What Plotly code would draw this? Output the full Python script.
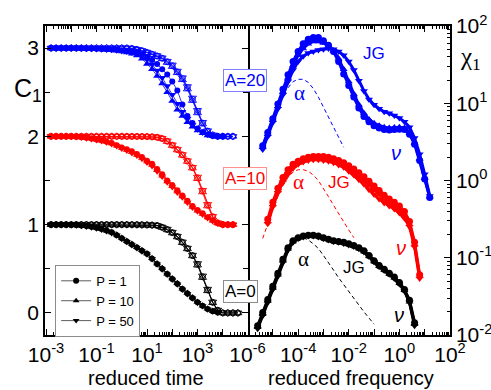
import plotly.graph_objects as go

# ---------------- Left panel: C1 vs reduced time ----------------
LOG_T = [-2.8, -2.6, -2.4, -2.2, -2.0, -1.8, -1.6, -1.4, -1.2, -1.0,
         -0.8, -0.6, -0.4, -0.2, 0.0, 0.2, 0.4, 0.6, 0.8, 1.0,
         1.2, 1.4, 1.6, 1.8, 2.0, 2.2, 2.4, 2.6, 2.8, 3.0,
         3.2, 3.4, 3.6, 3.8, 4.0, 4.2, 4.4, 4.6]

# A=0 (black), filled
C_A0_P1_F = [1.0, 1.0, 1.0, 1.0, 0.997, 0.995, 0.99, 0.985, 0.975, 0.965, 0.95, 0.935, 0.915, 0.88, 0.845,
             0.81, 0.775, 0.74, 0.705, 0.67, 0.615, 0.555, 0.50, 0.44, 0.385, 0.33, 0.27, 0.22, 0.17, 0.12,
             0.08, 0.045, 0.02, 0.005]
C_A0_P10_F = [1.0, 1.0, 1.0, 0.998, 0.996, 0.993, 0.988, 0.982, 0.973, 0.962, 0.948, 0.93, 0.91, 0.885, 0.85,
              0.815, 0.78, 0.745, 0.71, 0.672, 0.62, 0.56, 0.505, 0.445, 0.39, 0.335, 0.275, 0.225, 0.175, 0.125,
              0.082, 0.048, 0.022, 0.007]
C_A0_P50_F = [1.0, 1.0, 0.999, 0.998, 0.995, 0.992, 0.987, 0.98, 0.97, 0.958, 0.944, 0.927, 0.905, 0.88, 0.84,
              0.805, 0.77, 0.735, 0.70, 0.665, 0.61, 0.55, 0.495, 0.435, 0.38, 0.325, 0.265, 0.215, 0.165, 0.115,
              0.078, 0.042, 0.018, 0.004]
# A=0 (black), open
C_A0_P1_O = [1.0, 1.0, 1.0, 1.0, 1.0, 1.0, 1.0, 1.0, 1.0, 1.0, 1.0, 1.0, 1.0, 1.0, 1.0, 1.0, 0.999, 0.999,
             0.998, 0.997, 0.995, 0.99, 0.97, 0.945, 0.91, 0.865, 0.80, 0.73, 0.65, 0.55, 0.41, 0.26, 0.12,
             0.03, 0.0, 0.0, 0.0, 0.0]
C_A0_P10_O = [1.0, 1.0, 1.0, 1.0, 1.0, 1.0, 1.0, 1.0, 1.0, 1.0, 1.0, 1.0, 1.0, 1.0, 1.0, 0.999, 0.999, 0.998,
              0.997, 0.996, 0.993, 0.987, 0.967, 0.94, 0.905, 0.86, 0.795, 0.725, 0.645, 0.54, 0.40, 0.25, 0.115,
              0.028, 0.0, 0.0, 0.0, 0.0]
C_A0_P50_O = [1.0, 1.0, 1.0, 1.0, 1.0, 1.0, 1.0, 1.0, 1.0, 1.0, 1.0, 1.0, 1.0, 1.0, 1.0, 1.0, 1.0, 0.999,
              0.998, 0.998, 0.996, 0.992, 0.973, 0.95, 0.915, 0.87, 0.805, 0.735, 0.655, 0.56, 0.42, 0.27, 0.125,
              0.033, 0.002, 0.0, 0.0, 0.0]
# A=10 (red), offset by +1
C_A10_P1_F = [2.0, 2.0, 2.0, 2.0, 2.0, 1.995, 1.99, 1.985, 1.975, 1.965, 1.955, 1.94, 1.925, 1.90, 1.875,
              1.855, 1.83, 1.80, 1.765, 1.725, 1.69, 1.63, 1.57, 1.50, 1.45, 1.39, 1.33, 1.27, 1.21, 1.165,
              1.13, 1.085, 1.05, 1.02, 1.005, 1.0, 1.0]
C_A10_P10_F = [2.0, 2.0, 2.0, 2.0, 1.998, 1.993, 1.988, 1.982, 1.972, 1.962, 1.95, 1.935, 1.918, 1.895, 1.868,
               1.845, 1.82, 1.79, 1.755, 1.715, 1.675, 1.615, 1.555, 1.49, 1.435, 1.375, 1.32, 1.26, 1.20, 1.158,
               1.12, 1.08, 1.045, 1.018, 1.004, 1.0, 1.0]
C_A10_P50_F = [2.0, 2.0, 2.0, 1.999, 1.997, 1.992, 1.986, 1.979, 1.97, 1.96, 1.947, 1.932, 1.914, 1.89, 1.862,
               1.84, 1.812, 1.782, 1.745, 1.705, 1.665, 1.605, 1.545, 1.48, 1.425, 1.365, 1.31, 1.25, 1.195, 1.152,
               1.115, 1.075, 1.042, 1.016, 1.003, 1.0, 1.0]
C_A10_P1_O = [2.0, 2.0, 2.0, 2.0, 2.0, 2.0, 2.0, 2.0, 2.0, 2.0, 2.0, 2.0, 2.0, 2.0, 2.0, 2.0, 1.999, 1.999,
              1.998, 1.997, 1.995, 1.99, 1.975, 1.945, 1.90, 1.85, 1.79, 1.72, 1.645, 1.53, 1.38, 1.22, 1.09,
              1.02, 1.0, 1.0, 1.0]
C_A10_P10_O = [2.0, 2.0, 2.0, 2.0, 2.0, 2.0, 2.0, 2.0, 2.0, 2.0, 2.0, 2.0, 2.0, 2.0, 2.0, 1.999, 1.999, 1.998,
               1.997, 1.996, 1.993, 1.987, 1.972, 1.94, 1.895, 1.845, 1.785, 1.715, 1.64, 1.52, 1.37, 1.21, 1.085,
               1.018, 1.0, 1.0, 1.0]
C_A10_P50_O = [2.0, 2.0, 2.0, 2.0, 2.0, 2.0, 2.0, 2.0, 2.0, 2.0, 2.0, 2.0, 2.0, 2.0, 2.0, 2.0, 2.0, 1.999,
               1.998, 1.998, 1.996, 1.992, 1.978, 1.95, 1.905, 1.855, 1.795, 1.725, 1.65, 1.54, 1.39, 1.23, 1.095,
               1.022, 1.0, 1.0, 1.0]
# A=20 (blue), offset by +2
C_A20_P1_F = [3.0, 3.0, 3.0, 3.0, 3.0, 3.0, 2.998, 2.996, 2.995, 2.993, 2.99, 2.987, 2.984, 2.98, 2.975,
              2.97, 2.96, 2.95, 2.93, 2.90, 2.865, 2.82, 2.76, 2.70, 2.62, 2.52, 2.36, 2.23, 2.15, 2.09,
              2.05, 2.02, 2.005, 2.0, 2.0]
C_A20_P10_F = [3.0, 3.0, 3.0, 3.0, 3.0, 3.0, 2.995, 2.993, 2.99, 2.987, 2.984, 2.98, 2.975, 2.97, 2.96,
               2.95, 2.935, 2.915, 2.88, 2.82, 2.76, 2.685, 2.60, 2.50, 2.40, 2.30, 2.23, 2.16, 2.11, 2.065,
               2.035, 2.01, 2.0, 2.0, 2.0]
C_A20_P50_F = [3.0, 3.0, 3.0, 3.0, 3.0, 3.0, 2.997, 2.995, 2.993, 2.99, 2.987, 2.984, 2.98, 2.975, 2.968,
               2.96, 2.95, 2.935, 2.91, 2.87, 2.815, 2.745, 2.665, 2.57, 2.47, 2.37, 2.28, 2.20, 2.13, 2.08,
               2.045, 2.02, 2.005, 2.0, 2.0]
C_A20_P1_O = [3.0, 3.0, 3.0, 3.0, 3.0, 3.0, 3.0, 3.0, 3.0, 3.0, 3.0, 3.0, 3.0, 3.0, 3.0, 3.0, 2.995, 2.985,
              2.97, 2.95, 2.93, 2.91, 2.885, 2.845, 2.80, 2.73, 2.655, 2.55, 2.42, 2.28, 2.15, 2.06, 2.015,
              2.0, 2.0, 2.0, 2.0]
C_A20_P10_O = [3.0, 3.0, 3.0, 3.0, 3.0, 3.0, 3.0, 3.0, 3.0, 3.0, 3.0, 3.0, 3.0, 3.0, 3.0, 2.998, 2.993, 2.982,
               2.966, 2.946, 2.925, 2.904, 2.878, 2.836, 2.79, 2.72, 2.64, 2.535, 2.405, 2.265, 2.14, 2.055, 2.013,
               2.0, 2.0, 2.0, 2.0]
C_A20_P50_O = [3.0, 3.0, 3.0, 3.0, 3.0, 3.0, 3.0, 3.0, 3.0, 3.0, 3.0, 3.0, 3.0, 3.0, 3.0, 3.0, 2.996, 2.987,
               2.973, 2.954, 2.935, 2.915, 2.89, 2.852, 2.81, 2.74, 2.665, 2.565, 2.435, 2.295, 2.16, 2.065, 2.018,
               2.0, 2.0, 2.0, 2.0]

# ---------------- Right panel: log10(chi1) vs log10(reduced frequency) ----------------
LOG_F = [-5.6, -5.4, -5.2, -5.0, -4.8, -4.6, -4.4, -4.2, -4.0, -3.8,
         -3.6, -3.4, -3.2, -3.0, -2.8, -2.6, -2.4, -2.2, -2.0, -1.8,
         -1.6, -1.4, -1.2, -1.0, -0.8, -0.6, -0.4, -0.2, 0.0, 0.2,
         0.4, 0.6, 0.8, 1.0, 1.2]

LCHI_A20_P1 = [None, 0.45, 0.62, 0.80, 0.99, 1.18, 1.37, 1.54, 1.67, 1.77, 1.83, 1.85, 1.85, 1.81, 1.75,
               1.67, 1.54, 1.38, 1.23, 1.08, 0.94, 0.83, 0.76, 0.71, 0.68, 0.66, 0.655, 0.66, 0.665, 0.66,
               0.60, 0.47, 0.26, 0.02, -0.22]
LCHI_A20_P10 = [None, 0.43, 0.60, 0.78, 0.96, 1.15, 1.33, 1.49, 1.62, 1.71, 1.77, 1.80, 1.80, 1.78, 1.74,
                1.68, 1.58, 1.44, 1.28, 1.12, 0.98, 0.87, 0.79, 0.74, 0.71, 0.69, 0.68, 0.685, 0.69, 0.68,
                0.62, 0.49, 0.28, 0.03, -0.21]
LCHI_A20_P50 = [None, 0.40, 0.57, 0.75, 0.93, 1.11, 1.28, 1.43, 1.54, 1.61, 1.65, 1.67, 1.69, 1.70, 1.71,
                1.70, 1.67, 1.62, 1.54, 1.43, 1.29, 1.16, 1.05, 0.98, 0.93, 0.89, 0.87, 0.84, 0.81, 0.76,
                0.69, 0.55, 0.34, 0.08, -0.20]
LCHI_A10_P1 = [None, None, -0.50, -0.28, -0.10, 0.04, 0.14, 0.21, 0.25, 0.28, 0.30, 0.31, 0.31, 0.31, 0.30,
               0.28, 0.26, 0.23, 0.19, 0.15, 0.10, 0.05, -0.01, -0.07, -0.13, -0.19, -0.24, -0.28, -0.33, -0.40,
               -0.53, -0.80, -1.22, None, None]
LCHI_A10_P10 = [None, None, -0.53, -0.31, -0.13, 0.01, 0.11, 0.185, 0.23, 0.26, 0.28, 0.29, 0.29, 0.285, 0.275,
                0.255, 0.23, 0.20, 0.155, 0.11, 0.055, 0.0, -0.06, -0.125, -0.185, -0.24, -0.285, -0.325, -0.375,
                -0.445, -0.565, -0.83, -1.24, None, None]
LCHI_A10_P50 = [None, None, -0.56, -0.34, -0.16, -0.02, 0.08, 0.16, 0.21, 0.24, 0.26, 0.27, 0.27, 0.26, 0.25,
                0.23, 0.20, 0.17, 0.12, 0.07, 0.01, -0.05, -0.12, -0.18, -0.24, -0.29, -0.33, -0.37, -0.42,
                -0.49, -0.60, -0.86, -1.27, None, None]
LCHI_A0_P1 = [-1.88, -1.71, -1.54, -1.37, -1.20, -1.02, -0.87, -0.78, -0.74, -0.72, -0.71, -0.71, -0.72, -0.74,
              -0.76, -0.78, -0.79, -0.80, -0.82, -0.84, -0.87, -0.91, -0.97, -1.04, -1.10, -1.15, -1.20, -1.25,
              -1.32, -1.41, -1.55, -1.84, None, None, None]
LCHI_A0_P10 = [-1.90, -1.73, -1.56, -1.39, -1.22, -1.04, -0.885, -0.79, -0.745, -0.725, -0.715, -0.715, -0.725,
               -0.745, -0.765, -0.785, -0.795, -0.81, -0.83, -0.85, -0.88, -0.92, -0.98, -1.05, -1.11, -1.16,
               -1.21, -1.26, -1.33, -1.42, -1.57, -1.86, None, None, None]
LCHI_A0_P50 = [-1.92, -1.75, -1.58, -1.41, -1.24, -1.06, -0.90, -0.80, -0.75, -0.73, -0.72, -0.72, -0.73, -0.75,
               -0.77, -0.79, -0.80, -0.815, -0.835, -0.855, -0.885, -0.925, -0.985, -1.055, -1.115, -1.165,
               -1.215, -1.27, -1.34, -1.43, -1.58, -1.88, None, None, None]

# alpha-relaxation (dashed) contributions
ALPHA_A20_LOGF = [-4.4, -4.2, -4.0, -3.8, -3.6, -3.4, -3.2, -3.0, -2.8, -2.6, -2.4, -2.2]
ALPHA_A20_LCHI = [1.20, 1.28, 1.31, 1.31, 1.27, 1.19, 1.08, 0.95, 0.82, 0.69, 0.56, 0.43]
ALPHA_A10_LOGF = [-5.4, -5.2, -5.0, -4.8, -4.6, -4.4, -4.2, -4.0, -3.8, -3.6, -3.4, -3.2, -3.0, -2.8, -2.6,
                  -2.4, -2.2, -2.0, -1.8]
ALPHA_A10_LCHI = [-0.75, -0.56, -0.38, -0.21, -0.07, 0.04, 0.11, 0.14, 0.14, 0.12, 0.07, 0.00, -0.10, -0.21,
                  -0.32, -0.43, -0.54, -0.64, -0.74]
ALPHA_A0_LOGF = [-3.8, -3.6, -3.4, -3.2, -3.0, -2.8, -2.6, -2.4, -2.2, -2.0, -1.8, -1.6, -1.4, -1.2, -1.0]
ALPHA_A0_LCHI = [-0.74, -0.77, -0.82, -0.88, -0.97, -1.06, -1.16, -1.26, -1.35, -1.44, -1.53, -1.62, -1.70,
                 -1.78, -1.86]

LEGEND_LABELS = ["P = 1", "P = 10", "P = 50"]
SYMBOLS = ["circle", "triangle-up", "triangle-down"]

BLUE, RED, BLACK = "#0000ff", "#ff0000", "#000000"

fig = go.Figure()


def pairs(xlog, vals):
    xs, ys = [], []
    for xl, v in zip(xlog, vals):
        if v is not None:
            xs.append(10 ** xl)
            ys.append(v)
    return xs, ys


def add_left(vals, color, symbol, filled):
    xs, ys = pairs(LOG_T, vals)
    if filled:
        marker = dict(symbol=symbol, size=6 if symbol == "circle" else 7, color=color, line=dict(width=0))
    else:
        marker = dict(symbol=symbol + "-open", size=6 if symbol == "circle" else 7, color=color,
                      line=dict(width=0.9, color=color))
    fig.add_trace(go.Scatter(x=xs, y=ys, mode="lines+markers", marker=marker,
                             line=dict(color=color, width=0.8), showlegend=False,
                             xaxis="x", yaxis="y", hoverinfo="skip"))


left_sets = [
    (BLACK, [C_A0_P1_F, C_A0_P10_F, C_A0_P50_F], [C_A0_P1_O, C_A0_P10_O, C_A0_P50_O]),
    (RED, [C_A10_P1_F, C_A10_P10_F, C_A10_P50_F], [C_A10_P1_O, C_A10_P10_O, C_A10_P50_O]),
    (BLUE, [C_A20_P1_F, C_A20_P10_F, C_A20_P50_F], [C_A20_P1_O, C_A20_P10_O, C_A20_P50_O]),
]
for color, filled_sets, open_sets in left_sets:
    for vals, sym in zip(open_sets, SYMBOLS):
        add_left(vals, color, sym, False)
    for vals, sym in zip(filled_sets, SYMBOLS):
        add_left(vals, color, sym, True)

right_sets = [
    (BLACK, [LCHI_A0_P1, LCHI_A0_P10, LCHI_A0_P50], ALPHA_A0_LOGF, ALPHA_A0_LCHI),
    (RED, [LCHI_A10_P1, LCHI_A10_P10, LCHI_A10_P50], ALPHA_A10_LOGF, ALPHA_A10_LCHI),
    (BLUE, [LCHI_A20_P1, LCHI_A20_P10, LCHI_A20_P50], ALPHA_A20_LOGF, ALPHA_A20_LCHI),
]
for color, sets, alf, alc in right_sets:
    for vals, sym in zip(sets, SYMBOLS):
        xs, ys = pairs(LOG_F, vals)
        fig.add_trace(go.Scatter(x=xs, y=[10 ** v for v in ys], mode="lines+markers",
                                 marker=dict(symbol=sym, size=7, color=color, line=dict(width=0)),
                                 line=dict(color=color, width=3), showlegend=False,
                                 xaxis="x2", yaxis="y2", hoverinfo="skip"))
    fig.add_trace(go.Scatter(x=[10 ** v for v in alf], y=[10 ** v for v in alc], mode="lines",
                             line=dict(color=color, width=1, dash="4px,3px"), showlegend=False,
                             xaxis="x2", yaxis="y2", hoverinfo="skip"))

# legend entries
for lab, sym in zip(LEGEND_LABELS, SYMBOLS):
    fig.add_trace(go.Scatter(x=[None], y=[None], mode="lines+markers", name=lab,
                             marker=dict(symbol=sym, size=6, color=BLACK),
                             line=dict(color="#333333", width=0.8), xaxis="x", yaxis="y"))

FONT = "Arial, Liberation Sans, sans-serif"


def sup_label(e):
    return "10<sup>%d</sup>" % e


left_decades = list(range(-3, 5))
right_decades = list(range(-6, 3))
ydecades = list(range(-2, 3))

axis_common = dict(showline=True, linecolor="black", linewidth=1.5, ticks="inside", tickwidth=1.3,
                   ticklen=6, tickcolor="black", showgrid=False, zeroline=False, automargin=False,
                   tickfont=dict(size=21, color="black", family=FONT))

fig.update_layout(
    width=491, height=390,
    margin=dict(l=45, r=41, t=26, b=55, autoexpand=False),
    paper_bgcolor="white", plot_bgcolor="white",
    font=dict(family=FONT, color="black"),
    xaxis=dict(axis_common, domain=[0, 0.5], type="log", range=[-3.04, 4.98], anchor="y", mirror="ticks",
               tickmode="array", tickvals=[10 ** e for e in left_decades],
               ticktext=[sup_label(e) if e % 2 else "" for e in left_decades],
               minor=dict(tickmode="array", tickvals=[m * 10 ** e for e in left_decades for m in range(2, 10)],
                          ticks="inside", ticklen=3, tickcolor="black", tickwidth=1)),
    yaxis=dict(axis_common, domain=[0, 1], range=[-0.25, 3.25], anchor="x", mirror="ticks",
               tickmode="array", tickvals=[0, 1, 2, 3], ticktext=["0", "1", "2", "3"],
               minor=dict(tickmode="array", tickvals=[0.5, 1.5, 2.5], ticks="inside", ticklen=5,
                          tickcolor="black", tickwidth=1.3)),
    xaxis2=dict(axis_common, domain=[0.5, 1], type="log", range=[-6, 2], anchor="y2", mirror="ticks",
                tickmode="array", tickvals=[10 ** e for e in right_decades],
                ticktext=[sup_label(e) if e % 2 == 0 else "" for e in right_decades],
                minor=dict(tickmode="array", tickvals=[m * 10 ** e for e in right_decades for m in range(2, 10)],
                           ticks="inside", ticklen=3, tickcolor="black", tickwidth=1)),
    yaxis2=dict(axis_common, domain=[0, 1], type="log", range=[-2, 2], anchor="x2", side="right",
                mirror=False, tickmode="array", tickvals=[10 ** e for e in ydecades],
                ticktext=[sup_label(e) for e in ydecades],
                minor=dict(tickmode="array", tickvals=[m * 10 ** e for e in ydecades[:-1] for m in range(2, 10)],
                           ticks="inside", ticklen=3, tickcolor="black", tickwidth=1)),
    legend=dict(x=0.025, y=0.227, xanchor="left", yanchor="top", bgcolor="white",
                bordercolor="#8c8c8c", borderwidth=1, font=dict(size=13, family=FONT),
                itemwidth=30, tracegroupgap=0),
)

ann = []
ann.append(dict(text="reduced time", xref="paper", yref="paper", x=0.25, y=-0.139, xanchor="center",
                yanchor="middle", showarrow=False, font=dict(size=20, family=FONT)))
ann.append(dict(text="reduced frequency", xref="paper", yref="paper", x=0.755, y=-0.139, xanchor="center",
                yanchor="middle", showarrow=False, font=dict(size=20, family=FONT)))
ann.append(dict(text="C<sub>1</sub>", xref="paper", yref="paper", x=-0.081, y=0.85, xanchor="left",
                showarrow=False, font=dict(size=25, family=FONT)))
ann.append(dict(text="χ<sub>1</sub>", xref="paper", yref="paper", x=1.02, y=0.95, xanchor="left",
                showarrow=False, font=dict(size=25, family="Liberation Serif, serif")))
for txt, col, bcol, yy in [("A=20", BLUE, "#8080ff", 0.825), ("A=10", RED, "#ff9090", 0.505),
                           ("A=0", BLACK, "#8c8c8c", 0.14)]:
    ann.append(dict(text=txt, xref="paper", yref="paper", x=0.44, y=yy, xanchor="left", yanchor="middle",
                    showarrow=False, font=dict(size=17, color=col, family=FONT), bgcolor="white",
                    bordercolor=bcol, borderwidth=1, borderpad=1))
# curve labels (positions in log10 axis units)
labels = [
    ("α", BLUE, -3.93, 1.13, "Liberation Serif, serif", 21), ("JG", BLUE, -1.0, 1.64, FONT, 17),
    ("<i>ν</i>", BLUE, -0.13, 0.35, FONT, 20),
    ("α", RED, -4.0, -0.02, "Liberation Serif, serif", 21), ("JG", RED, -2.4, -0.02, FONT, 17),
    ("<i>ν</i>", RED, 0.07, -0.88, FONT, 20),
    ("α", BLACK, -3.8, -1.01, "Liberation Serif, serif", 21), ("JG", BLACK, -1.8, -1.12, FONT, 17),
    ("<i>ν</i>", BLACK, 0.0, -1.74, FONT, 20),
]
for txt, col, lx, ly, fam, fs in labels:
    ann.append(dict(text=txt, xref="x2", yref="y2", x=lx, y=ly, showarrow=False,
                    font=dict(size=fs, color=col, family=fam)))
fig.update_layout(annotations=ann)

fig.write_html("out.html")
